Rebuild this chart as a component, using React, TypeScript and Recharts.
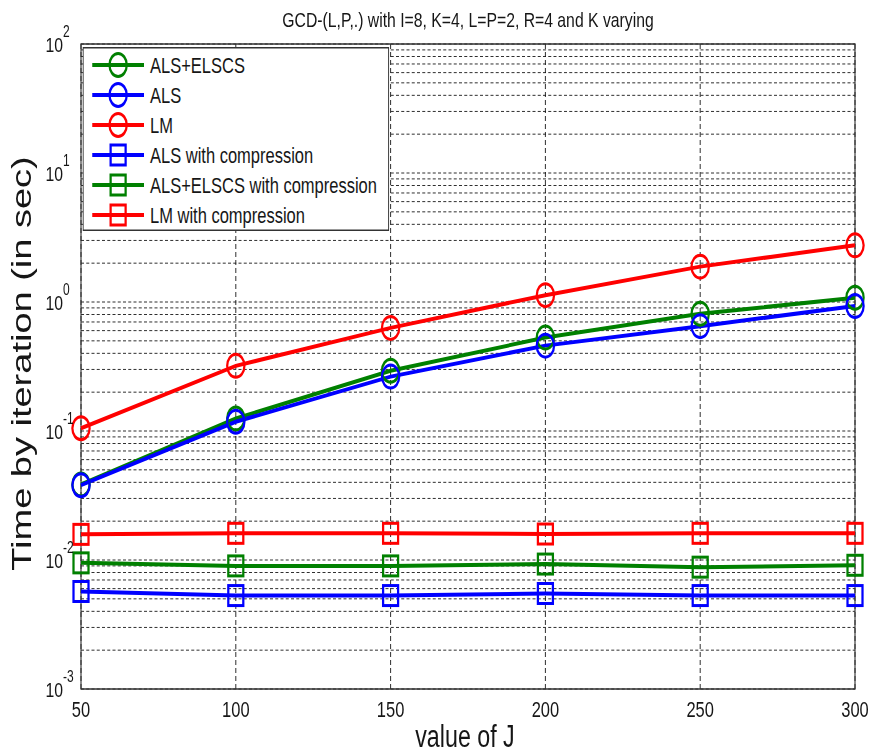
import React from 'react';
import {
  LineChart,
  Line,
  XAxis,
  YAxis,
  CartesianGrid,
  Legend,
  ReferenceArea,
} from 'recharts';

// Problem size J on the horizontal axis
const jValues = [50, 100, 150, 200, 250, 300];

// Time per iteration (seconds) for each algorithm
const alsElscs = [0.0385, 0.125, 0.293, 0.53, 0.81, 1.08];
const als = [0.038, 0.118, 0.264, 0.459, 0.65, 0.93];
const lm = [0.105, 0.32, 0.63, 1.13, 1.88, 2.75];
const alsCompressed = [0.0057, 0.0053, 0.0053, 0.0055, 0.0053, 0.0053];
const alsElscsCompressed = [0.0095, 0.009, 0.009, 0.0093, 0.0088, 0.0091];
const lmCompressed = [0.0158, 0.0161, 0.0161, 0.0159, 0.0161, 0.0161];

const seriesNames = [
  'ALS+ELSCS',
  'ALS',
  'LM',
  'ALS with compression',
  'ALS+ELSCS with compression',
  'LM with compression',
];

const chartTitle = 'GCD-(L,P,.) with I=8, K=4, L=P=2, R=4 and K varying';
const xLabel = 'value of J';
const yLabel = 'Time by iteration (in sec)';

const xTicks = [50, 100, 150, 200, 250, 300];
const decadeExponents = [-3, -2, -1, 0, 1, 2];
const minorMultipliers = [2, 3, 4, 5, 6, 7, 8, 9];

const GREEN = '#008000';
const BLUE = '#0000ff';
const RED = '#ff0000';
const FONT = '"Liberation Sans", Arial, Helvetica, sans-serif';
const TEXT = '#161616';

// The figure is drawn on a wider canvas and squeezed horizontally
const SQUEEZE = 0.75;
const FIG_W = 870;
const FIG_H = 755;
const CHART_W = FIG_W / SQUEEZE;

type Shape = 'circle' | 'square';

const series: { key: string; name: string; color: string; shape: Shape; values: number[] }[] = [
  { key: 'alsElscs', name: seriesNames[0], color: GREEN, shape: 'circle', values: alsElscs },
  { key: 'als', name: seriesNames[1], color: BLUE, shape: 'circle', values: als },
  { key: 'lm', name: seriesNames[2], color: RED, shape: 'circle', values: lm },
  { key: 'alsComp', name: seriesNames[3], color: BLUE, shape: 'square', values: alsCompressed },
  { key: 'alsElscsComp', name: seriesNames[4], color: GREEN, shape: 'square', values: alsElscsCompressed },
  { key: 'lmComp', name: seriesNames[5], color: RED, shape: 'square', values: lmCompressed },
];

const data = jValues.map((j, i) => {
  const row: Record<string, number> = { j };
  series.forEach((s) => {
    row[s.key] = s.values[i];
  });
  return row;
});

const decadeTicks = decadeExponents.map((e) => Math.pow(10, e));
const yTicks: number[] = [];
decadeExponents.forEach((e, idx) => {
  yTicks.push(Math.pow(10, e));
  if (idx < decadeExponents.length - 1) {
    minorMultipliers.forEach((m) => yTicks.push(m * Math.pow(10, e)));
  }
});

function isDecade(v: number) {
  return decadeTicks.some((d) => Math.abs(d - v) / d < 1e-9);
}

function Marker({ cx, cy, color, shape }: { cx: number; cy: number; color: string; shape: Shape }) {
  if (shape === 'circle') {
    return <circle cx={cx} cy={cy} r={11.5} fill="none" stroke={color} strokeWidth={3} />;
  }
  return (
    <rect x={cx - 10} y={cy - 10} width={20} height={20} fill="none" stroke={color} strokeWidth={3} />
  );
}

function makeDot(color: string, shape: Shape) {
  return (props: any) => {
    const { cx, cy, index } = props;
    if (cx == null || cy == null) return <g key={`d-${index}`} />;
    return (
      <g key={`d-${index}`}>
        <Marker cx={cx} cy={cy} color={color} shape={shape} />
      </g>
    );
  };
}

function YTick(props: any) {
  const { y, payload } = props;
  const v = payload.value as number;
  if (!isDecade(v)) return <g />;
  const exp = Math.round(Math.log10(v));
  const right = 84;
  return (
    <g fontFamily={FONT} fill={TEXT}>
      <text x={right} y={y + 8} fontSize={21} textAnchor="end">
        10
      </text>
      <text x={right} y={y - 7} fontSize={16} textAnchor="start">
        {String(exp)}
      </text>
    </g>
  );
}

function XTick(props: any) {
  const { x, y, payload } = props;
  return (
    <text x={x} y={y + 20} fontSize={22} textAnchor="middle" fontFamily={FONT} fill={TEXT}>
      {payload.value}
    </text>
  );
}

function XLabel(props: any) {
  const vb = props.viewBox || {};
  return (
    <text
      x={vb.x + vb.width / 2 - 4}
      y={vb.y + 58}
      fontSize={31}
      textAnchor="middle"
      fontFamily={FONT}
      fill={TEXT}
    >
      {xLabel}
    </text>
  );
}

function YLabel(props: any) {
  const vb = props.viewBox || {};
  const cx = 41;
  const cy = vb.y + vb.height / 2 - 3;
  return (
    <text
      x={cx}
      y={cy}
      transform={`rotate(-90 ${cx} ${cy})`}
      fontSize={38}
      textAnchor="middle"
      fontFamily={FONT}
      fill={TEXT}
    >
      {yLabel}
    </text>
  );
}

const LEG_W = 409;
const LEG_H = 184;

function LegendBox() {
  return (
    <svg width={LEG_W} height={LEG_H} style={{ display: 'block' }}>
      <rect x={0.75} y={0.75} width={LEG_W - 1.5} height={LEG_H - 1.5} fill="#fff" stroke="#333" strokeWidth={1.5} />
      {series.map((s, i) => {
        const cy = 18 + i * 30;
        return (
          <g key={s.key}>
            <line x1={13} x2={82} y1={cy} y2={cy} stroke={s.color} strokeWidth={4} />
            <Marker cx={47.5} cy={cy} color={s.color} shape={s.shape} />
            <text x={90} y={cy + 8} fontSize={22} fontFamily={FONT} fill={TEXT}>
              {s.name}
            </text>
          </g>
        );
      })}
    </svg>
  );
}

export default function App() {
  return (
    <div
      style={{
        position: 'absolute',
        left: 0,
        top: 0,
        width: FIG_W,
        height: FIG_H,
        overflow: 'hidden',
        background: '#fff',
      }}
    >
      <div
        style={{
          position: 'relative',
          width: CHART_W,
          height: FIG_H,
          transform: `scaleX(${SQUEEZE})`,
          transformOrigin: '0 0',
        }}
      >
        <div
          style={{
            position: 'absolute',
            left: 224,
            width: 800,
            top: 9,
            textAlign: 'center',
            fontFamily: FONT,
            fontSize: 21,
            lineHeight: '21px',
            color: TEXT,
            whiteSpace: 'nowrap',
          }}
        >
          {chartTitle}
        </div>
        <LineChart
          width={CHART_W}
          height={FIG_H}
          data={data}
          margin={{ top: 44, right: 20, bottom: 0, left: 0 }}
        >
          <CartesianGrid
            vertical={false}
            stroke="#111"
            strokeDasharray="4 3"
            strokeWidth={1}
            shapeRendering="crispEdges"
          />
          <CartesianGrid
            horizontal={false}
            stroke="#111"
            strokeDasharray="5 3"
            strokeWidth={1}
            shapeRendering="crispEdges"
          />
          <XAxis
            dataKey="j"
            type="number"
            domain={[50, 300]}
            ticks={xTicks}
            interval={0}
            height={66}
            axisLine={false}
            tickLine={false}
            tick={<XTick />}
            label={<XLabel />}
          />
          <YAxis
            type="number"
            scale="log"
            domain={[0.001, 100]}
            ticks={yTicks}
            interval={0}
            allowDataOverflow
            width={108}
            axisLine={false}
            tickLine={false}
            tick={<YTick />}
            label={<YLabel />}
          />
          <ReferenceArea
            x1={50}
            x2={300}
            y1={0.001}
            y2={100}
            fill="none"
            fillOpacity={0}
            stroke="#333"
            strokeWidth={1.5}
            ifOverflow="visible"
          />
          {series.map((s) => (
            <Line
              key={s.key}
              type="linear"
              dataKey={s.key}
              name={s.name}
              stroke={s.color}
              strokeWidth={4}
              dot={makeDot(s.color, s.shape)}
              activeDot={false}
              isAnimationActive={false}
            />
          ))}
          <Legend
            layout="horizontal"
            verticalAlign="middle"
            align="center"
            content={() => <LegendBox />}
            wrapperStyle={{ position: 'absolute', left: 110, top: 47, width: LEG_W, height: LEG_H }}
          />
        </LineChart>
      </div>
    </div>
  );
}
